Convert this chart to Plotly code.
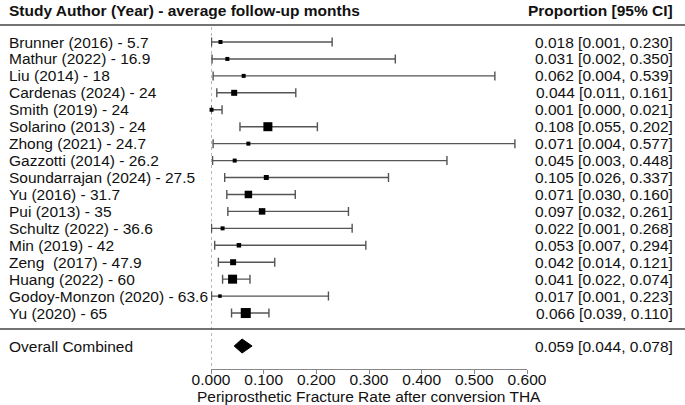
import plotly.graph_objects as go

studies = ["Brunner (2016) - 5.7", "Mathur (2022) - 16.9", "Liu (2014) - 18", "Cardenas (2024) - 24",
           "Smith (2019) - 24", "Solarino (2013) - 24", "Zhong (2021) - 24.7", "Gazzotti (2014) - 26.2",
           "Soundarrajan (2024) - 27.5", "Yu (2016) - 31.7", "Pui (2013) - 35", "Schultz (2022) - 36.6",
           "Min (2019) - 42", "Zeng  (2017) - 47.9", "Huang (2022) - 60", "Godoy-Monzon (2020) - 63.6",
           "Yu (2020) - 65"]
prop = [0.018, 0.031, 0.062, 0.044, 0.001, 0.108, 0.071, 0.045, 0.105, 0.071, 0.097, 0.022, 0.053, 0.042, 0.041, 0.017, 0.066]
lower = [0.001, 0.002, 0.004, 0.011, 0.000, 0.055, 0.004, 0.003, 0.026, 0.030, 0.032, 0.001, 0.007, 0.014, 0.022, 0.001, 0.039]
upper = [0.230, 0.350, 0.539, 0.161, 0.021, 0.202, 0.577, 0.448, 0.337, 0.160, 0.261, 0.268, 0.294, 0.121, 0.074, 0.223, 0.110]
weight_px = [4, 4, 4, 6, 4, 9, 4, 4, 5, 7.5, 6.5, 4, 4.5, 6, 9, 3.5, 10]

overall_label = "Overall Combined"
overall = [0.059, 0.044, 0.078]

x_ticks = [0, 0.1, 0.2, 0.3, 0.4, 0.5, 0.6]
x_title = "Periprosthetic Fracture Rate after conversion THA"
left_header = "Study Author (Year) - average follow-up months"
right_header = "Proportion [95% CI]"

FONT = "Liberation Sans, Arial, sans-serif"
FS = 15.5
W, H = 685, 405
X0PX, X1PX = 211, 527
ROW0PX, ROWPX = 42, 16.94
PLOT_BOTTOM = 369

def row_of(px):
    return (px - ROW0PX) / ROWPX

def paper_y(px):
    return (PLOT_BOTTOM - px) / PLOT_BOTTOM

ys = list(range(len(studies)))
y_overall = row_of(346)

fig = go.Figure()

# whiskers
fig.add_trace(go.Scatter(
    x=prop, y=ys, mode="markers",
    marker=dict(symbol="square", size=1, color="rgba(0,0,0,0)", line=dict(width=0)),
    error_x=dict(type="data", symmetric=False,
                 array=[u - p for u, p in zip(upper, prop)],
                 arrayminus=[p - l for p, l in zip(prop, lower)],
                 color="#555555", thickness=1.4, width=4.5),
    showlegend=False, hoverinfo="skip", cliponaxis=False))
# squares on top
fig.add_trace(go.Scatter(
    x=prop, y=ys, mode="markers",
    marker=dict(symbol="square", size=weight_px, color="#000000", opacity=1, line=dict(width=0)),
    showlegend=False, hoverinfo="skip", cliponaxis=False))

h = row_of(346 + 7) - y_overall
fig.add_trace(go.Scatter(
    x=[overall[1], overall[0], overall[2], overall[0], overall[1]],
    y=[y_overall, y_overall - h, y_overall, y_overall + h, y_overall],
    mode="lines", fill="toself", fillcolor="black", line=dict(color="black", width=1),
    showlegend=False, hoverinfo="skip"))

txt = dict(size=FS, color="#111")
annotations = []
for i, (s, p, l, u) in enumerate(zip(studies, prop, lower, upper)):
    annotations.append(dict(x=7 / W, y=i, xref="paper", yref="y", text=s, showarrow=False,
                            xanchor="left", yanchor="middle", font=txt))
    annotations.append(dict(x=675 / W, y=i, xref="paper", yref="y",
                            text=f"{p:.3f} [{l:.3f}, {u:.3f}]", showarrow=False,
                            xanchor="right", yanchor="middle", font=txt))
annotations.append(dict(x=7 / W, y=y_overall, xref="paper", yref="y", text=overall_label, showarrow=False,
                        xanchor="left", yanchor="middle", font=txt))
annotations.append(dict(x=675 / W, y=y_overall, xref="paper", yref="y",
                        text=f"{overall[0]:.3f} [{overall[1]:.3f}, {overall[2]:.3f}]", showarrow=False,
                        xanchor="right", yanchor="middle", font=txt))
annotations.append(dict(x=7 / W, y=paper_y(10), xref="paper", yref="paper", text=f"<b>{left_header}</b>",
                        showarrow=False, xanchor="left", yanchor="middle", font=txt))
annotations.append(dict(x=675 / W, y=paper_y(10), xref="paper", yref="paper", text=f"<b>{right_header}</b>",
                        showarrow=False, xanchor="right", yanchor="middle", font=txt))
annotations.append(dict(x=(X0PX + X1PX) / 2 / W, y=paper_y(396), xref="paper", yref="paper", text=x_title,
                        showarrow=False, xanchor="center", yanchor="middle", font=txt))

shapes = [
    dict(type="line", xref="paper", yref="paper", x0=0, x1=1, y0=paper_y(25), y1=paper_y(25),
         line=dict(color="#444", width=1.5)),
    dict(type="line", xref="paper", yref="paper", x0=0, x1=1, y0=paper_y(329), y1=paper_y(329),
         line=dict(color="#444", width=1.5)),
    dict(type="line", xref="x", yref="paper", x0=0, x1=0, y0=paper_y(27), y1=0,
         line=dict(color="#777", width=1, dash="dot"), layer="below"),
]

fig.update_layout(
    width=W, height=H, margin=dict(l=0, r=0, t=0, b=H - PLOT_BOTTOM, autoexpand=False),
    plot_bgcolor="white", paper_bgcolor="white",
    font=dict(family=FONT, color="#111"),
    xaxis=dict(domain=[X0PX / W, X1PX / W], range=[0, 0.6], tickvals=x_ticks, tickformat=".3f",
               showline=True, linecolor="#888", linewidth=1.2, ticks="outside", ticklen=4,
               tickcolor="#888", showgrid=False, zeroline=False, automargin=False,
               tickfont=txt, ticklabelstandoff=-8),
    yaxis=dict(range=[row_of(PLOT_BOTTOM), row_of(0)], visible=False, showgrid=False, zeroline=False,
               automargin=False),
    annotations=annotations, shapes=shapes,
)

fig.write_html("out.html")
